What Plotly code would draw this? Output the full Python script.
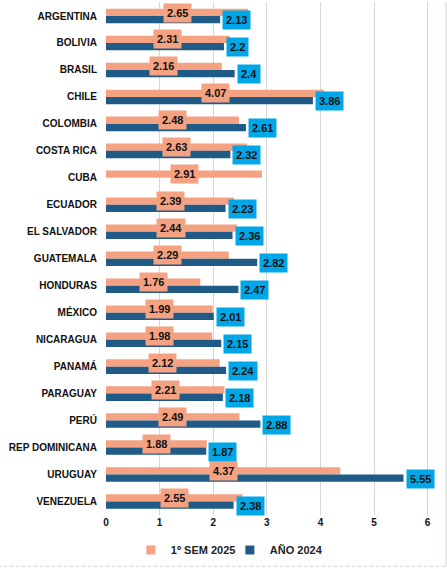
import plotly.graph_objects as go

countries = ["ARGENTINA", "BOLIVIA", "BRASIL", "CHILE", "COLOMBIA", "COSTA RICA", "CUBA",
             "ECUADOR", "EL SALVADOR", "GUATEMALA", "HONDURAS", "MÉXICO", "NICARAGUA",
             "PANAMÁ", "PARAGUAY", "PERÚ", "REP DOMINICANA", "URUGUAY", "VENEZUELA"]
sem_2025 = [2.65, 2.31, 2.16, 4.07, 2.48, 2.63, 2.91, 2.39, 2.44, 2.29, 1.76, 1.99, 1.98,
            2.12, 2.21, 2.49, 1.88, 4.37, 2.55]
ano_2024 = [2.13, 2.2, 2.4, 3.86, 2.61, 2.32, None, 2.23, 2.36, 2.82, 2.47, 2.01, 2.15,
            2.24, 2.18, 2.88, 1.87, 5.55, 2.38]
x_ticks = [0, 1, 2, 3, 4, 5, 6]

SALMON = "#F5A282"
NAVY = "#1F5B86"
CYAN = "#00A7E8"
FONT = "Liberation Sans"

fig = go.Figure()
fig.add_trace(go.Bar(y=countries, x=sem_2025, orientation="h", name="1º SEM 2025",
                     marker=dict(color=SALMON, line=dict(width=0)), showlegend=False))
fig.add_trace(go.Bar(y=countries, x=ano_2024, orientation="h", name="AÑO 2024",
                     marker=dict(color=NAVY, line=dict(width=0)), showlegend=False))
# small square legend keys
fig.add_trace(go.Scatter(x=[None], y=[None], mode="markers", name="<b>1º SEM 2025</b>",
                         marker=dict(symbol="square", size=9, color=SALMON)))
fig.add_trace(go.Scatter(x=[None], y=[None], mode="markers", name="<b>AÑO 2024</b>",
                         marker=dict(symbol="square", size=9, color=NAVY)))

# value labels with coloured boxes, like the original
annotations = []
for c, v in zip(countries, sem_2025):
    annotations.append(dict(x=v / 2, y=c, text=f"<b>{v:g}</b>", showarrow=False,
                            xanchor="center", yanchor="middle", yshift=3.5,
                            bgcolor=SALMON, borderpad=3,
                            font=dict(family=FONT, size=11, color="#111111")))
for c, v in zip(countries, ano_2024):
    if v is None:
        continue
    annotations.append(dict(x=v, y=c, text=f"<b>{v:g}</b>", showarrow=False,
                            xanchor="left", yanchor="middle", xshift=2, yshift=-4,
                            bgcolor=CYAN, borderpad=3,
                            font=dict(family=FONT, size=11, color="#111111")))

fig.update_layout(
    width=447, height=569,
    margin=dict(l=106, r=14, t=2, b=54),
    barmode="group", bargap=0.46, bargroupgap=0,
    plot_bgcolor="white", paper_bgcolor="white",
    font=dict(family=FONT, size=10, color="#111111"),
    annotations=annotations,
    showlegend=True,
    legend=dict(orientation="h", x=0.076, y=-0.068, xanchor="left", yanchor="middle",
                font=dict(family=FONT, size=11, color="#222222"),
                itemwidth=30, entrywidth=54, tracegroupgap=0, itemsizing="trace"),
    xaxis=dict(range=[0, 6.1], tickvals=x_ticks, ticktext=[f"<b>{t}</b>" for t in x_ticks],
               showgrid=True, gridcolor="#D6D6D6", gridwidth=1, zeroline=False,
               showline=False, ticks="", automargin=False,
               tickfont=dict(size=10, color="#111111")),
    yaxis=dict(autorange="reversed", ticktext=[f"<b>{c}</b>" for c in countries],
               tickvals=countries, ticks="", ticklabelstandoff=8, showgrid=False,
               automargin=False, tickfont=dict(size=10, color="#111111")),
    shapes=[
        dict(type="line", xref="paper", yref="paper", x0=1.04, x1=1.04, y0=-0.1, y1=1.0,
             line=dict(color="#C8D8C8", width=1)),
        dict(type="line", xref="paper", yref="paper", x0=-0.33, x1=1.05, y0=-0.1, y1=-0.1,
             line=dict(color="#CCCCCC", width=1, dash="dot")),
    ],
)

# drop the page's default body margin so the figure sits at the window corner
fig.write_html("out.html", config={"displayModeBar": False},
               post_script="document.body.style.margin='0';")
